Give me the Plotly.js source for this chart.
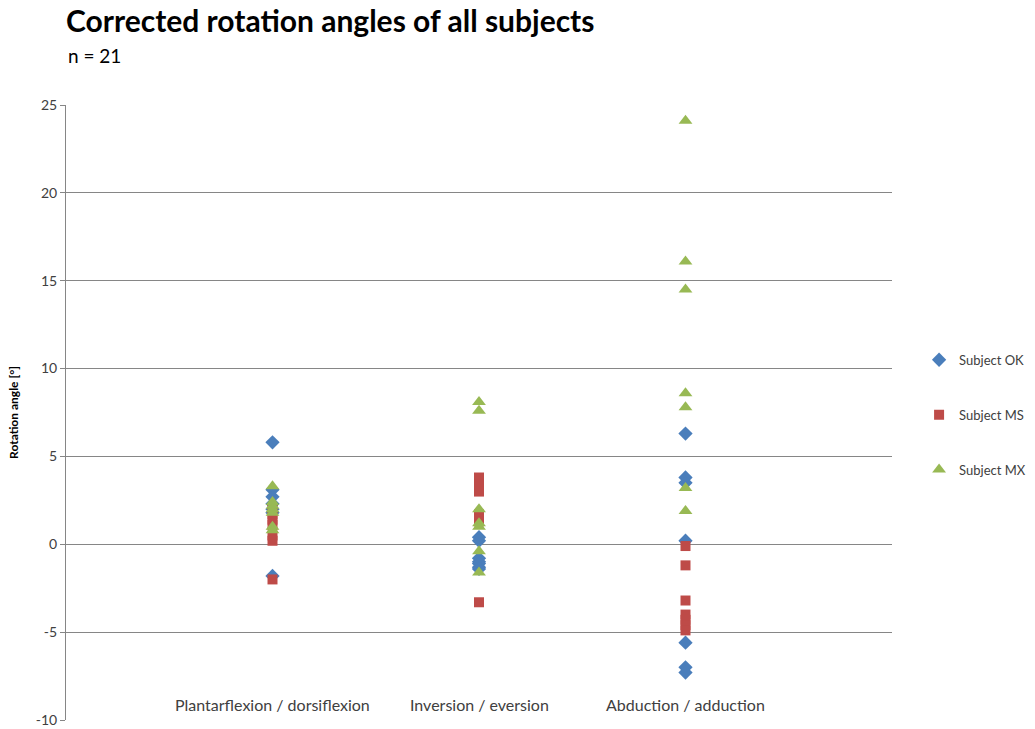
<!DOCTYPE html>
<html>
<head>
<meta charset="utf-8">
<script src="https://cdn.plot.ly/plotly-3.0.1.min.js"></script>
<style>html,body{margin:0;padding:0;background:#fff;}#chart{width:1035px;height:729px;}</style>
</head>
<body>
<div id="chart"></div>
<script>
// Category labels and positions on the x axis
const categories = ["Plantarflexion / dorsiflexion", "Inversion / eversion", "Abduction / adduction"];
const categoryX = [1, 2, 3];

// Rotation angles [°] per category (7 values each)
const okPlantar = [5.8, 3.1, 2.7, 2.3, 2.0, 1.8, -1.8];
const okInversion = [0.4, 0.2, -0.8, -1.0, -1.1, -1.3, -1.4];
const okAbduction = [6.3, 3.8, 3.5, 0.2, -5.6, -7.0, -7.3];

const msPlantar = [2.0, 1.7, 1.4, 1.1, 0.5, 0.2, -2.0];
const msInversion = [3.8, 3.4, 3.0, 1.7, 1.4, 1.3, -3.3];
const msAbduction = [-0.1, -1.2, -3.2, -4.0, -4.3, -4.6, -4.9];

const mxPlantar = [3.3, 2.4, 2.2, 2.0, 1.8, 1.0, 0.8];
const mxInversion = [8.1, 7.6, 2.0, 1.2, 1.0, -0.4, -1.6];
const mxAbduction = [24.1, 16.1, 14.5, 8.6, 7.8, 3.2, 1.9];

const yTicks = [-10, -5, 0, 5, 10, 15, 20, 25];

function build(a, b, c) {
  const xs = [], ys = [];
  [a, b, c].forEach((arr, i) => arr.forEach(v => { xs.push(categoryX[i]); ys.push(v); }));
  return {x: xs, y: ys};
}

const ok = build(okPlantar, okInversion, okAbduction);
const ms = build(msPlantar, msInversion, msAbduction);
const mx = build(mxPlantar, mxInversion, mxAbduction);

const FONT = "Lato, 'Open Sans', sans-serif";

const traces = [
  {x: ok.x, y: ok.y, name: "Subject OK", legendgroup: "a", type: "scatter", mode: "markers",
   marker: {symbol: "diamond", size: 11, color: "#4A7EBB", line: {width: 0}}},
  {x: ms.x, y: ms.y, name: "Subject MS", legendgroup: "b", type: "scatter", mode: "markers",
   marker: {symbol: "square", size: 10, color: "#BE4B48", line: {width: 0}}},
  {x: mx.x, y: mx.y, name: "Subject MX", legendgroup: "c", type: "scatter", mode: "markers",
   marker: {symbol: "triangle-up", size: 12, color: "#98B954", line: {width: 0}}}
];

const annotations = categories.map((c, i) => ({
  x: categoryX[i], y: -9.1, xref: "x", yref: "y", text: c, showarrow: false,
  font: {family: FONT, size: 16, color: "#404040"}
}));
annotations.push({
  xref: "paper", yref: "paper", x: 0, y: 1, xanchor: "left", yanchor: "bottom", yshift: 36,
  text: "n = 21", showarrow: false,
  font: {family: FONT, size: 19, color: "#000"}
});

const layout = {
  width: 1035, height: 729,
  paper_bgcolor: "#fff", plot_bgcolor: "#fff",
  margin: {l: 66, r: 143, t: 105, b: 9},
  title: {
    text: "<b>Corrected rotation angles of all subjects</b>",
    xref: "paper", x: 0, xanchor: "left",
    yref: "container", y: 0.985, yanchor: "top",
    font: {family: FONT, size: 30, color: "#000"}
  },
  xaxis: {
    range: [0, 4], showgrid: false, zeroline: false, showticklabels: false,
    showline: false, ticks: "", fixedrange: true
  },
  yaxis: {
    range: [-10, 25], tickvals: yTicks, ticktext: yTicks.map(String),
    showgrid: true, gridcolor: "#868686", gridwidth: 1,
    zeroline: false, showline: true, linecolor: "#868686", linewidth: 1,
    ticks: "outside", ticklen: 5, tickcolor: "#868686",
    tickfont: {family: FONT, size: 14, color: "#404040"},
    title: {text: "<b>Rotation angle [°]</b>", standoff: 14,
      font: {family: FONT, size: 12, color: "#000"}}
  },
  legend: {
    xref: "container", yref: "container",
    x: 0.888, xanchor: "left", y: 0.431, yanchor: "middle",
    traceorder: "grouped", tracegroupgap: 35,
    font: {family: FONT, size: 13, color: "#404040"},
    itemwidth: 30
  },
  annotations: annotations,
  showlegend: true
};

Plotly.newPlot("chart", traces, layout, {displayModeBar: false, staticPlot: true});
</script>
</body>
</html>
